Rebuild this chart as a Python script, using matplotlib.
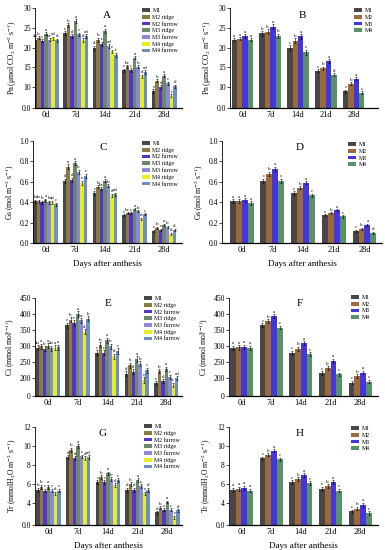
import matplotlib
matplotlib.use('Agg')
import matplotlib.pyplot as plt
import numpy as np

plt.rcParams['font.family'] = ['Liberation Serif', 'DejaVu Serif']
plt.rcParams['mathtext.fontset'] = 'stix'

days = ['0d', '7d', '14d', '21d', '28d']
names7 = ['M1', 'M2 ridge', 'M2 furrow', 'M3 ridge', 'M3 furrow', 'M4 ridge', 'M4 furrow']
names4 = ['M1', 'M2', 'M3', 'M4']
colors7 = ['#4a4646', '#8a7a44', '#5533cc', '#6a8a6a', '#8c8ad8', '#e6f020', '#6a90c4']
colors4 = ['#4a4646', '#9a6a3e', '#4436dd', '#5a9268']

# ---- Panel A: Pn, 7 treatments (rows = series, cols = days)
pn_A = [[22.0, 23.6, 20.0, 14.2, 9.0],
        [22.5, 25.6, 22.0, 15.2, 11.6],
        [21.7, 22.8, 21.0, 14.3, 10.0],
        [23.5, 26.6, 24.3, 17.4, 12.9],
        [22.0, 23.3, 20.3, 15.1, 10.9],
        [22.3, 21.8, 19.0, 12.7, 7.8],
        [21.8, 22.9, 18.2, 13.8, 10.2]]
err_A = [0.4, 0.5, 0.5, 0.4, 0.4]
let_A = [['ab', 'b', 'c', 'a', 'bc', 'cd', 'd'],
         ['c', 'b', 'd', 'a', 'c', 'd', 'cd'],
         ['d', 'b', 'c', 'a', 'cd', 'e', 'f'],
         ['c', 'bc', 'c', 'a', 'b', 'd', 'cd'],
         ['e', 'b', 'd', 'a', 'c', 'f', 'd']]

# ---- Panel B: Pn, 4 treatments
pn_B = [[22.0, 23.6, 20.0, 14.1, 8.9],
        [22.2, 24.0, 21.7, 14.7, 10.8],
        [22.9, 25.3, 22.8, 16.6, 12.1],
        [22.0, 22.9, 18.8, 13.1, 8.6]]
err_B = [0.4, 0.6, 0.6, 0.4, 0.4]
let_B = [['a', 'a', 'a', 'a'], ['b', 'b', 'a', 'b'], ['c', 'b', 'a', 'c'],
         ['c', 'b', 'a', 'd'], ['c', 'b', 'a', 'c']]

# ---- Panel C: Gs, 7 treatments
gs_C = [[0.41, 0.61, 0.49, 0.27, 0.12],
        [0.41, 0.75, 0.55, 0.29, 0.15],
        [0.40, 0.62, 0.53, 0.29, 0.13],
        [0.42, 0.78, 0.61, 0.33, 0.18],
        [0.40, 0.70, 0.56, 0.31, 0.16],
        [0.40, 0.59, 0.47, 0.24, 0.09],
        [0.38, 0.66, 0.48, 0.28, 0.13]]
err_C = [0.015, 0.02, 0.015, 0.01, 0.01]
let_C = [['b', 'ab', 'b', 'a', 'b', 'ab', 'c'],
         ['d', 'a', 'd', 'a', 'b', 'e', 'c'],
         ['c', 'b', 'bc', 'a', 'b', 'd', 'cd'],
         ['c', 'bc', 'c', 'a', 'b', 'd', 'c'],
         ['c', 'b', 'c', 'a', 'b', 'd', 'd']]

# ---- Panel D: Gs, 4 treatments
gs_D = [[0.41, 0.61, 0.49, 0.27, 0.12],
        [0.41, 0.68, 0.54, 0.29, 0.14],
        [0.42, 0.73, 0.59, 0.32, 0.18],
        [0.39, 0.61, 0.47, 0.26, 0.10]]
err_D = [0.02, 0.02, 0.015, 0.01, 0.01]
let_D = [['a', 'a', 'a', 'a'], ['c', 'b', 'a', 'c'], ['c', 'b', 'a', 'c'],
         ['c', 'b', 'a', 'c'], ['c', 'b', 'a', 'd']]

# ---- Panel E: Ci, 7 treatments
ci_E = [[295, 365, 280, 215, 185],
        [300, 383, 305, 240, 222],
        [292, 372, 280, 220, 192],
        [302, 400, 318, 260, 230],
        [293, 380, 300, 245, 205],
        [295, 345, 268, 195, 180],
        [297, 385, 285, 225, 200]]
err_E = [8, 8, 8, 8, 6]
let_E = [['ab', 'a', 'b', 'a', 'ab', 'a', 'a'],
         ['c', 'b', 'c', 'a', 'bc', 'd', 'b'],
         ['c', 'b', 'c', 'a', 'b', 'd', 'c'],
         ['d', 'b', 'd', 'a', 'b', 'e', 'c'],
         ['e', 'b', 'd', 'a', 'c', 'e', 'cd']]

# ---- Panel F: Ci, 4 treatments
ci_F = [[295, 366, 280, 216, 187],
        [296, 378, 292, 232, 207],
        [298, 393, 310, 255, 218],
        [294, 358, 276, 212, 190]]
err_F = [7, 6, 6, 6, 6]
let_F = [['a', 'a', 'a', 'a'], ['c', 'b', 'a', 'c'], ['c', 'b', 'a', 'c'],
         ['c', 'b', 'a', 'c'], ['c', 'b', 'a', 'c']]

# ---- Panel G: Tr, 7 treatments
tr_G = [[5.4, 8.8, 6.2, 5.4, 3.0],
        [5.7, 9.6, 6.7, 6.0, 3.5],
        [5.3, 8.7, 6.2, 5.4, 3.3],
        [5.7, 10.0, 7.1, 6.4, 4.1],
        [5.3, 8.9, 6.5, 5.8, 3.3],
        [5.0, 8.7, 5.9, 5.0, 2.5],
        [5.3, 8.8, 6.4, 5.4, 3.2]]
err_G = [0.2, 0.2, 0.2, 0.2, 0.15]
let_G = [['b', 'b', 'c', 'a', 'c', 'd', 'c'],
         ['d', 'b', 'd', 'a', 'c', 'd', 'cd'],
         ['c', 'b', 'c', 'a', 'b', 'd', 'c'],
         ['d', 'b', 'd', 'a', 'c', 'e', 'd'],
         ['d', 'b', 'c', 'a', 'c', 'e', 'd']]

# ---- Panel H: Tr, 4 treatments
tr_H = [[5.4, 8.7, 6.2, 5.5, 3.1],
        [5.5, 9.1, 6.5, 5.8, 3.4],
        [5.6, 9.5, 6.9, 6.2, 3.8],
        [5.3, 8.6, 6.1, 5.3, 2.9]]
err_H = [0.2, 0.15, 0.2, 0.2, 0.2]
let_H = [['a', 'a', 'a', 'a'], ['c', 'b', 'a', 'c'], ['c', 'b', 'a', 'c'],
         ['c', 'b', 'a', 'c'], ['c', 'b', 'a', 'c']]

ylab_pn = 'Pn (μmol CO$_2$ m$^{-2}$ s$^{-1}$)'
ylab_gs = 'Gs (mol m$^{-2}$ s$^{-1}$)'
ylab_ci = 'Ci (mmol mol$^{(-1)}$)'
ylab_tr = 'Tr (mmolH$_2$O m$^{-2}$ s$^{-1}$)'

W, H = 385, 550
fig = plt.figure(figsize=(W / 100, H / 100), dpi=100)

def px_axes(l, r, t, b):
    return fig.add_axes([l / W, 1 - b / H, (r - l) / W, (b - t) / H])

tick_pn = ([4.7, 10, 15, 20, 25, 30], ['0.0', '10', '15', '20', '25', '30'], (4.7, 30))
tick_gs = ([0, 0.2, 0.4, 0.6, 0.8, 1.0], ['0.0', '0.2', '0.4', '0.6', '0.8', '1.0'], (0, 1.0))
tick_ci = ([145, 200, 250, 300, 350, 400, 450], ['0', '200', '250', '300', '350', '400', '450'], (145, 450))
tick_tr = ([1.67, 4, 6, 8, 10, 12], ['0.0', '4', '6', '8', '10', '12'], (1.67, 12))

panels = [
    (pn_A, err_A, let_A, names7, colors7, (35, 182, 8, 108), (-0.37, 4.6), 0.85, tick_pn, ylab_pn, 'A', (107, 15), (142, 8), False),
    (pn_B, err_B, let_B, names4, colors4, (230, 378, 8, 108), (-0.45, 4.88), 0.78, tick_pn, ylab_pn, 'B', (302, 15), (354, 8), False),
    (gs_C, err_C, let_C, names7, colors7, (33, 182, 141, 243), (-0.42, 4.6), 0.82, tick_gs, ylab_gs, 'C', (103, 148), (142, 141), True),
    (gs_D, err_D, let_D, names4, colors4, (222, 382, 141, 243), (-0.64, 4.57), 0.78, tick_gs, ylab_gs, 'D', (300, 148), (348, 142), True),
    (ci_E, err_E, let_E, names7, colors7, (35, 182, 298, 396), (-0.44, 4.53), 0.82, tick_ci, ylab_ci, 'E', (108, 304), (144, 296), False),
    (ci_F, err_F, let_F, names4, colors4, (229, 378, 298, 396), (-0.42, 4.6), 0.78, tick_ci, ylab_ci, 'F', (300, 304), (351, 295), False),
    (tr_G, err_G, let_G, names7, colors7, (35, 182, 427, 525), (-0.45, 4.49), 0.82, tick_tr, ylab_tr, 'G', (103, 434), (144, 424), True),
    (tr_H, err_H, let_H, names4, colors4, (229, 378, 427, 525), (-0.42, 4.6), 0.78, tick_tr, ylab_tr, 'H', (300, 434), (351, 426), True),
]

x = np.arange(len(days))
for (data, err, lets, names, cols, box, xl, gw, ticks, ylab, plet, ppos, lanc, xlab) in panels:
    ax = px_axes(*box)
    n = len(names)
    bw = gw / n
    handles = []
    for s in range(n):
        xs = x - gw / 2 + bw * (s + 0.5)
        vals = np.array(data[s], dtype=float)
        b = ax.bar(xs, vals, width=bw, color=cols[s], edgecolor='none', label=names[s])
        ax.errorbar(xs, vals, yerr=err, fmt='none', ecolor='black', elinewidth=0.4, capsize=0.8, capthick=0.4)
        handles.append(b)
        for d in range(len(days)):
            ax.annotate(lets[d][s], (xs[d], vals[d] + err[d]), xytext=(0, 0.3),
                        textcoords='offset points', ha='center', va='bottom', fontsize=3.6)
    ax.set_xlim(*xl)
    ax.set_ylim(*ticks[2])
    ax.set_yticks(ticks[0])
    ax.set_yticklabels(ticks[1])
    ax.set_xticks(x)
    ax.set_xticklabels(days)
    ax.tick_params(axis='x', length=0, labelsize=6, pad=2.5)
    ax.tick_params(axis='y', length=2, width=0.5, labelsize=5.5, pad=1)
    for sp in ['top', 'right']:
        ax.spines[sp].set_visible(False)
    ax.spines['left'].set_linewidth(0.6)
    ax.spines['bottom'].set_linewidth(0.9)
    ax.set_ylabel(ylab, fontsize=5.5, labelpad=1.5)
    if xlab:
        ax.set_xlabel('Days after anthesis', fontsize=6.5, labelpad=4)
    fig.text(ppos[0] / W, 1 - ppos[1] / H, plet, fontsize=8, ha='center', va='center')
    fig.legend(handles=handles, labels=names, loc='upper left',
               bbox_to_anchor=(lanc[0] / W, 1 - lanc[1] / H), frameon=False,
               fontsize=4.2, handlelength=1.3, handleheight=0.6, labelspacing=0.3,
               handletextpad=0.5, borderpad=0, borderaxespad=0)

fig.savefig('out.png', dpi=100)
